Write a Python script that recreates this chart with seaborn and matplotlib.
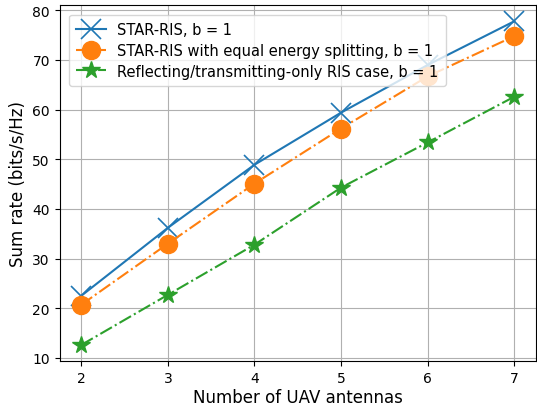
import matplotlib
matplotlib.use("Agg")
import matplotlib.pyplot as plt
import seaborn as sns
import pandas as pd

antennas = [2, 3, 4, 5, 6, 7]
star_ris = [22.5, 36.2, 48.9, 59.4, 69.0, 77.8]
equal_split = [20.7, 33.0, 45.1, 56.2, 66.7, 74.8]
refl_only = [12.6, 22.7, 32.8, 44.3, 53.4, 62.6]
labels = ["STAR-RIS, b = 1",
          "STAR-RIS with equal energy splitting, b = 1",
          "Reflecting/transmitting-only RIS case, b = 1"]

fig, ax = plt.subplots(figsize=(5.37, 4.06), dpi=100)
styles = [("x", "-", 14, "C0"), ("o", "-.", 13, "C1"), ("*", "-.", 13, "C2")]
for vals, lab, (m, ls, ms, c) in zip([star_ris, equal_split, refl_only], labels, styles):
    df = pd.DataFrame({"x": antennas, "y": vals})
    sns.lineplot(data=df, x="x", y="y", ax=ax, marker=m, linestyle=ls,
                 markersize=ms, color=c, label=lab, markeredgecolor=c,
                 markeredgewidth=1.2 if m == "x" else 1)
ax.grid(True)
ax.set_xlabel("Number of UAV antennas", fontsize=12, labelpad=2.5)
ax.set_ylabel("Sum rate (bits/s/Hz)", fontsize=12)
ax.set_xticks(antennas)
ax.tick_params(labelsize=10)
ax.legend(loc="upper left", fontsize=10.5, labelspacing=0.4, borderpad=0.5,
          borderaxespad=0.65)
fig.subplots_adjust(left=0.111, right=0.998, top=0.985, bottom=0.108)
fig.savefig("out.png", dpi=100)
